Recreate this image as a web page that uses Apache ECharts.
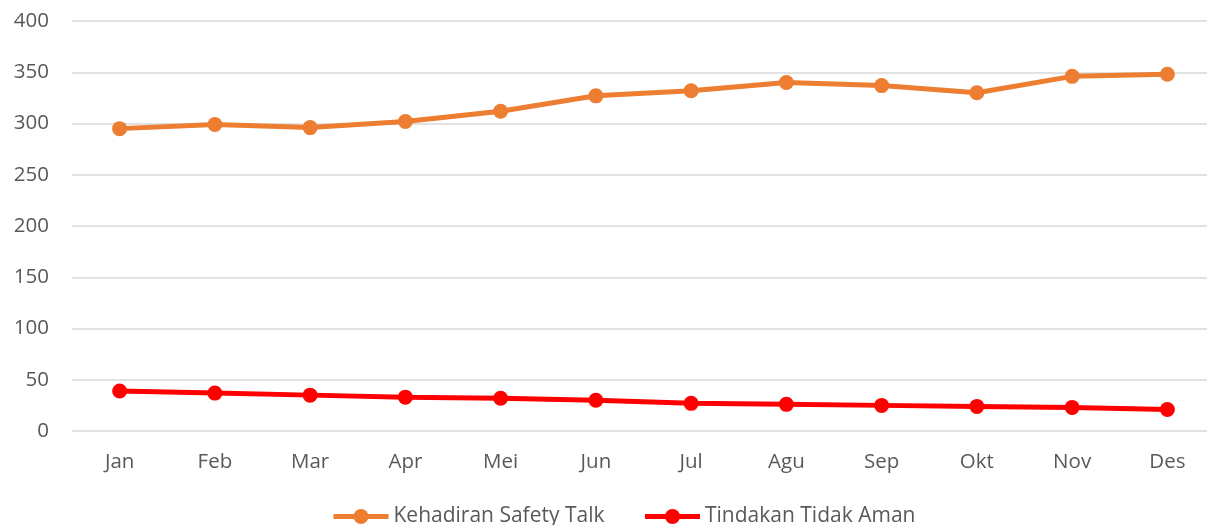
<!DOCTYPE html>
<html>
<head>
<meta charset="utf-8">
<script src="https://cdn.jsdelivr.net/npm/echarts@6/dist/echarts.min.js"></script>
<style>html,body{margin:0;padding:0;background:#fff;}#c{width:1207px;height:525px;}</style>
</head>
<body>
<div id="c"></div>
<script>
const categories = ['Jan','Feb','Mar','Apr','Mei','Jun','Jul','Agu','Sep','Okt','Nov','Des'];
const safetyTalk = [295, 299, 296, 302, 312, 327, 332, 340, 337, 330, 346, 348];
const unsafeActs = [39, 37, 35, 33, 32, 30, 27, 26, 25, 24, 23, 21];
const seriesNames = ['Kehadiran Safety Talk', 'Tindakan Tidak Aman'];

const font = '"Open Sans", "Noto Sans", sans-serif';
const chart = echarts.init(document.getElementById('c'));
chart.setOption({
  animation: false,
  grid: { left: 72, top: 21, width: 1143, bottom: 94, containLabel: false, outerBoundsMode: 'none' },
  legend: {
    top: 501,
    left: 326,
    itemWidth: 55,
    itemHeight: 19,
    itemGap: 38,
    lineStyle: { width: 5 },
    textStyle: { color: '#595959', fontSize: 21, fontFamily: font },
    data: seriesNames
  },
  xAxis: {
    type: 'category',
    data: categories,
    boundaryGap: true,
    axisLine: { show: false },
    axisTick: { show: false },
    axisLabel: { color: '#595959', fontSize: 20.5, fontFamily: font, margin: 21 }
  },
  yAxis: {
    type: 'value',
    min: 0, max: 400, interval: 50,
    axisLine: { show: false },
    axisTick: { show: false },
    axisLabel: { color: '#595959', fontSize: 20.5, fontFamily: font, margin: 23 },
    splitLine: { lineStyle: { color: '#d9d9d9', width: 1.5 } }
  },
  series: [
    {
      name: seriesNames[0], type: 'line', data: safetyTalk,
      symbol: 'circle', symbolSize: 15,
      lineStyle: { color: '#ED7D31', width: 5 },
      itemStyle: { color: '#ED7D31' }
    },
    {
      name: seriesNames[1], type: 'line', data: unsafeActs,
      symbol: 'circle', symbolSize: 15,
      lineStyle: { color: '#FF0000', width: 5 },
      itemStyle: { color: '#FF0000' }
    }
  ]
});
</script>
</body>
</html>
